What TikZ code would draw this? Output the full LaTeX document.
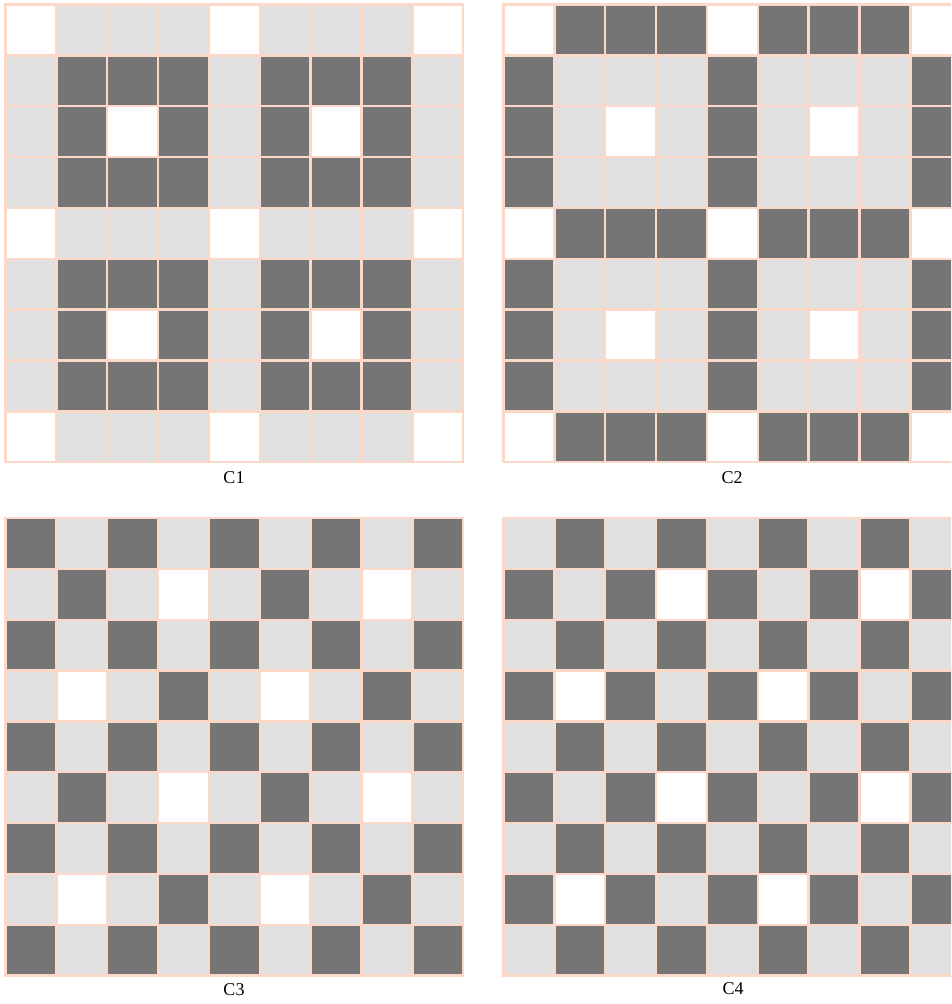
\documentclass[tikz,border=0pt]{standalone}
\usepackage{fontspec}
\setmainfont{Liberation Serif}
\definecolor{cellL}{HTML}{E0E0E0}
\definecolor{cellD}{HTML}{757575}
\definecolor{peach}{HTML}{FCD8C9}
\tikzset{
  c0/.style={fill=white,draw=peach,line width=2.4pt},
  c1/.style={fill=cellL,draw=peach,line width=2.4pt},
  c2/.style={fill=cellD,draw=peach,line width=2.4pt},
  gridlabel/.style={font=\fontsize{18}{20}\selectfont,inner sep=0pt,anchor=center}
}
\newcommand\mygrid[3]{%
  \foreach \row [count=\i from 0] in {#3} {%
    \foreach \c [count=\j from 0] in \row {%
      \filldraw[c\c] ({#1+\j*50.85},{#2+\i*50.85}) rectangle ++(50.85,50.85);
    }%
  }%
}
\begin{document}
\begin{tikzpicture}[x=1pt,y=-1pt]
\useasboundingbox (0,0) rectangle (951,1004);
\clip (0,0) rectangle (951,1004);
% C1
\mygrid{5.5}{4.5}{
 {0,1,1,1,0,1,1,1,0},{1,2,2,2,1,2,2,2,1},{1,2,0,2,1,2,0,2,1},{1,2,2,2,1,2,2,2,1},
 {0,1,1,1,0,1,1,1,0},{1,2,2,2,1,2,2,2,1},{1,2,0,2,1,2,0,2,1},{1,2,2,2,1,2,2,2,1},
 {0,1,1,1,0,1,1,1,0}}
% C2
\mygrid{503.5}{4.5}{
 {0,2,2,2,0,2,2,2,0},{2,1,1,1,2,1,1,1,2},{2,1,0,1,2,1,0,1,2},{2,1,1,1,2,1,1,1,2},
 {0,2,2,2,0,2,2,2,0},{2,1,1,1,2,1,1,1,2},{2,1,0,1,2,1,0,1,2},{2,1,1,1,2,1,1,1,2},
 {0,2,2,2,0,2,2,2,0}}
% C3
\mygrid{5.5}{518}{
 {2,1,2,1,2,1,2,1,2},{1,2,1,0,1,2,1,0,1},{2,1,2,1,2,1,2,1,2},{1,0,1,2,1,0,1,2,1},
 {2,1,2,1,2,1,2,1,2},{1,2,1,0,1,2,1,0,1},{2,1,2,1,2,1,2,1,2},{1,0,1,2,1,0,1,2,1},
 {2,1,2,1,2,1,2,1,2}}
% C4
\mygrid{503.5}{518}{
 {1,2,1,2,1,2,1,2,1},{2,1,2,0,2,1,2,0,2},{1,2,1,2,1,2,1,2,1},{2,0,2,1,2,0,2,1,2},
 {1,2,1,2,1,2,1,2,1},{2,1,2,0,2,1,2,0,2},{1,2,1,2,1,2,1,2,1},{2,0,2,1,2,0,2,1,2},
 {1,2,1,2,1,2,1,2,1}}
\node[gridlabel] (l1) at (234,478) {C1};
\node[gridlabel] (l2) at (732,478) {C2};
\node[gridlabel] (l3) at (234,990) {C3};
\node[gridlabel] (l4) at (733,989) {C4};
\end{tikzpicture}
\end{document}
